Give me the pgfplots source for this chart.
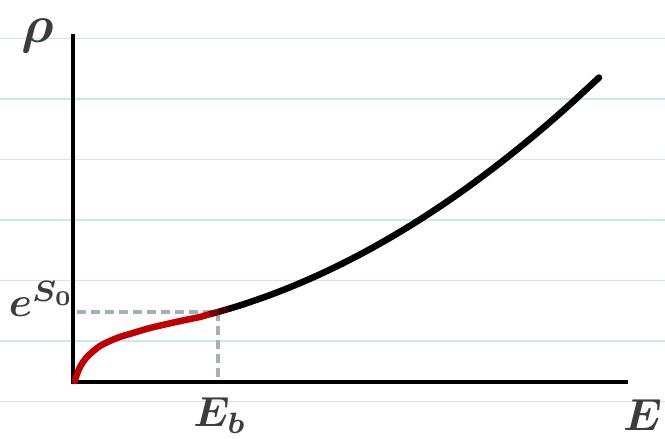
\documentclass[border=0pt]{standalone}
\usepackage{pgfplots}
\pgfplotsset{compat=1.18}
\definecolor{bgline}{HTML}{C8E8F8}
\definecolor{txt}{HTML}{3C3C3C}
\definecolor{cred}{HTML}{C00000}
\definecolor{dashc}{HTML}{A5AEBB}
\begin{document}
\begin{tikzpicture}
\begin{axis}[scale only axis, width=665pt, height=439pt,
  xmin=0, xmax=665, ymin=0, ymax=439, hide axis, clip=false]
% ruled background lines
\addplot[bgline, line width=1.8pt, forget plot] coordinates {(0,400.5)(665,400.5)};
\addplot[bgline, line width=1.8pt, forget plot] coordinates {(0,340)(665,340)};
\addplot[bgline, line width=1.8pt, forget plot] coordinates {(0,279.5)(665,279.5)};
\addplot[bgline, line width=1.8pt, forget plot] coordinates {(0,219)(665,219)};
\addplot[bgline, line width=1.8pt, forget plot] coordinates {(0,158.5)(665,158.5)};
\addplot[bgline, line width=1.8pt, forget plot] coordinates {(0,98)(665,98)};
\addplot[bgline, line width=1.8pt, forget plot] coordinates {(0,37.5)(665,37.5)};
% dashed guides
\addplot[dashc, line width=3.2pt, dash pattern=on 9pt off 5pt, forget plot] coordinates {(77,127)(218,127)};
\addplot[dashc, line width=3.2pt, dash pattern=on 9pt off 5pt, forget plot] coordinates {(218,127)(218,59)};
% axes
\addplot[black, line width=4.8pt, forget plot] coordinates {(73,405)(73,57)(628,57)};
% red part of curve
\addplot[cred, line width=6.5pt, smooth, line cap=round, forget plot] coordinates {
(75,58)(76,62)(80,72)(87,82)(100,93)(117,101)(133,106)(150,111)(167,115)(183,118.5)(200,122)};
\addplot[red!75!black, line width=6.5pt, forget plot] coordinates {(200,122)(209,124.6)};
\addplot[red!50!black, line width=6.5pt, forget plot] coordinates {(209,124.6)(218,127)};
\addplot[red!25!black, line width=6.5pt, forget plot] coordinates {(218,127)(230,130.5)};
% black part of curve
\addplot[black, line width=6.5pt, smooth, line cap=round, forget plot] coordinates {
(230,130.5)(243,134.55)(268,143.2)(293,152.95)(318,163.8)(343,175.75)(368,188.8)(393,202.95)
(418,218.2)(443,234.55)(468,252)(493,270.55)(518,290.2)(543,310.95)(568,332.8)(599,361.4)};
% labels
\node[txt, anchor=base, scale=5.3, font=\boldmath, inner sep=0pt] at (axis cs:38,396) {$\rho$};
\node[txt, anchor=base, scale=4.2, font=\boldmath] at (axis cs:42,122) {$e^{S_0}$};
\node[txt, anchor=base east, scale=4.5, font=\boldmath, inner sep=0pt] at (axis cs:663,8) {$E$};
\node[txt, anchor=base, scale=4.2, font=\boldmath, inner sep=0pt] at (axis cs:220,12) {$E_b$};
\coordinate (bl) at (axis cs:0,0);
\coordinate (tr) at (axis cs:665,439);
\end{axis}
\pgfresetboundingbox
\path[use as bounding box] (bl) rectangle (tr);
\end{tikzpicture}
\end{document}
